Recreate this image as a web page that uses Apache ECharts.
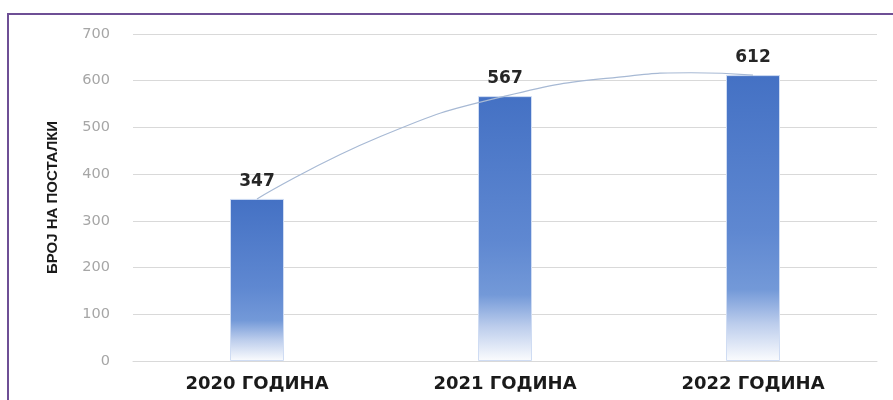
<!DOCTYPE html>
<html>
<head>
<meta charset="utf-8">
<script src="https://cdn.jsdelivr.net/npm/echarts@6/dist/echarts.min.js"></script>
<style>
html,body{margin:0;padding:0;background:#fff;}
#c{width:893px;height:400px;}
</style>
</head>
<body>
<div id="c"></div>
<script>
const categories = ['2020 ГОДИНА', '2021 ГОДИНА', '2022 ГОДИНА'];
const values = [347, 567, 612];
const yTicks = [0, 100, 200, 300, 400, 500, 600, 700];
const yAxisName = 'БРОЈ НА ПОСТАЛКИ';
// trend line (category position, value)
const trendX = [0, 0.5, 1, 1.5, 1.75, 2];
const trendY = [347, 481, 567, 610, 617, 612];

const chart = echarts.init(document.getElementById('c'));
chart.setOption({
  animation: false,
  backgroundColor: '#ffffff',
  graphic: [{
    type: 'rect',
    silent: true,
    z: -10,
    shape: { x: 8, y: 14, width: 900, height: 400 },
    style: { fill: 'none', stroke: '#6e4f95', lineWidth: 2 }
  }],
  grid: { left: 133, right: 16, top: 34, bottom: 39 },
  xAxis: [{
    type: 'category',
    data: categories,
    axisLine: { show: true, lineStyle: { color: '#d9d9d9', width: 1 } },
    axisTick: { show: false },
    axisLabel: {
      margin: 14,
      fontFamily: 'DejaVu Sans',
      fontWeight: 'bold',
      fontSize: 18,
      color: '#1a1a1a'
    }
  }, {
    type: 'value',
    min: -0.5,
    max: 2.5,
    show: false
  }],
  yAxis: {
    type: 'value',
    min: yTicks[0],
    max: yTicks[yTicks.length - 1],
    interval: 100,
    name: yAxisName,
    nameLocation: 'middle',
    nameRotate: 90,
    nameGap: 73,
    nameTextStyle: {
      fontFamily: '"Liberation Sans Narrow", "Liberation Sans", Arial',
      fontWeight: 'bold',
      fontSize: 15,
      color: '#1a1a1a'
    },
    axisLine: { show: false },
    axisTick: { show: false },
    axisLabel: {
      margin: 23,
      fontFamily: 'DejaVu Sans',
      fontSize: 14.5,
      color: '#a6a6a6'
    },
    splitLine: { lineStyle: { color: '#d9d9d9', width: 1 } }
  },
  series: [{
    type: 'bar',
    data: values,
    barWidth: 54,
    itemStyle: {
      borderColor: '#cfdcf3',
      borderWidth: 1,
      color: new echarts.graphic.LinearGradient(0, 0, 0, 1, [
        { offset: 0, color: '#4471c4' },
        { offset: 0.55, color: '#5f88d1' },
        { offset: 0.75, color: '#7399d8' },
        { offset: 0.87, color: '#bccdec' },
        { offset: 1, color: '#fbfcfe' }
      ])
    },
    label: {
      show: true,
      position: 'top',
      distance: 9,
      fontFamily: 'DejaVu Sans',
      fontWeight: 'bold',
      fontSize: 17,
      color: '#262626'
    }
  }, {
    type: 'line',
    xAxisIndex: 1,
    data: trendX.map((x, i) => [x, trendY[i]]),
    smooth: true,
    symbol: 'none',
    z: 5,
    lineStyle: { color: '#a7b9d4', width: 1.2 }
  }]
});
</script>
</body>
</html>
